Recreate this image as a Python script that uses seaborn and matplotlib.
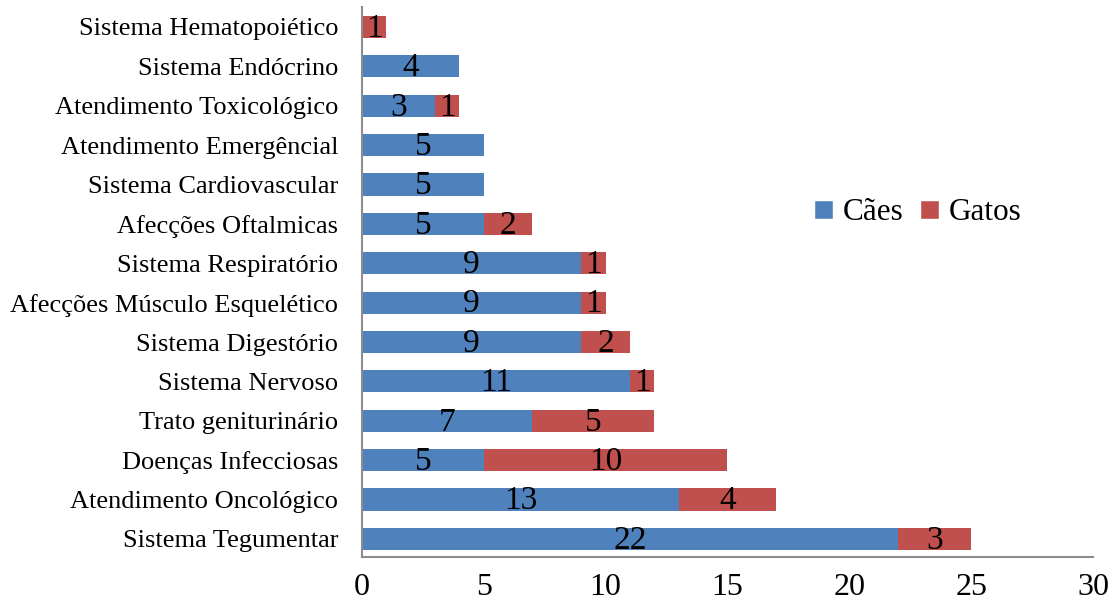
import matplotlib
matplotlib.use("Agg")
import matplotlib.pyplot as plt
from matplotlib.patches import Patch
import seaborn as sns
import pandas as pd

categorias = [
    "Sistema Hematopoiético",
    "Sistema Endócrino",
    "Atendimento Toxicológico",
    "Atendimento Emergêncial",
    "Sistema Cardiovascular",
    "Afecções Oftalmicas",
    "Sistema Respiratório",
    "Afecções Músculo Esquelético",
    "Sistema Digestório",
    "Sistema Nervoso",
    "Trato geniturinário",
    "Doenças Infecciosas",
    "Atendimento Oncológico",
    "Sistema Tegumentar",
]
caes = [0, 4, 3, 5, 5, 5, 9, 9, 9, 11, 7, 5, 13, 22]
gatos = [1, 0, 1, 0, 0, 2, 1, 1, 2, 1, 5, 10, 4, 3]
x_ticks = [0, 5, 10, 15, 20, 25, 30]

AZUL = "#4F81BD"
VERMELHO = "#C0504D"

sns.set_style("white")
plt.rcParams["font.family"] = ["Liberation Serif", "DejaVu Serif"]
plt.rcParams["text.color"] = "black"
plt.rcParams["xtick.color"] = "black"
plt.rcParams["ytick.color"] = "black"

df = pd.DataFrame({"categoria": categorias, "caes": caes, "gatos": gatos})
df["total"] = df["caes"] + df["gatos"]

fig = plt.figure(figsize=(11.17, 6.07), dpi=100)
ax = fig.add_axes([0.324, 0.083, 0.6545, 0.905])

# Stacked look: total (gatos) underneath, cães drawn over it
sns.barplot(data=df, y="categoria", x="total", order=categorias, orient="h",
            color=VERMELHO, saturation=1, width=0.56, ax=ax, edgecolor="none")
sns.barplot(data=df, y="categoria", x="caes", order=categorias, orient="h",
            color=AZUL, saturation=1, width=0.56, ax=ax, edgecolor="none")

for i, (c, g) in enumerate(zip(caes, gatos)):
    if c > 0:
        ax.text(c / 2, i + 0.04, str(c), ha="center", va="center", fontsize=24, color="black")
    if g > 0:
        ax.text(c + g / 2, i + 0.04, str(g), ha="center", va="center", fontsize=24, color="black")

ax.set_xlim(0, 30)
ax.set_ylim(13.45, -0.5)
ax.set_xticks(x_ticks)
ax.set_xticklabels([str(t) for t in x_ticks])
ax.set_xlabel("")
ax.set_ylabel("")
ax.tick_params(axis="x", length=0, pad=12, labelsize=23, labelcolor="black")
ax.tick_params(axis="y", length=0, pad=17, labelsize=19, labelcolor="black")

for s in ["top", "right"]:
    ax.spines[s].set_visible(False)
for s in ["left", "bottom"]:
    ax.spines[s].set_color("#8C8C8C")
    ax.spines[s].set_linewidth(1.5)

handles = [Patch(facecolor=AZUL, label="Cães"), Patch(facecolor=VERMELHO, label="Gatos")]
fig.legend(handles=handles, loc="center left", bbox_to_anchor=(0.729, 1 - 213 / 607),
           ncol=2, frameon=False, fontsize=22.5, handlelength=0.6, handleheight=0.6,
           handletextpad=0.3, columnspacing=0.55, borderpad=0, borderaxespad=0)

fig.savefig("out.png", dpi=100)
